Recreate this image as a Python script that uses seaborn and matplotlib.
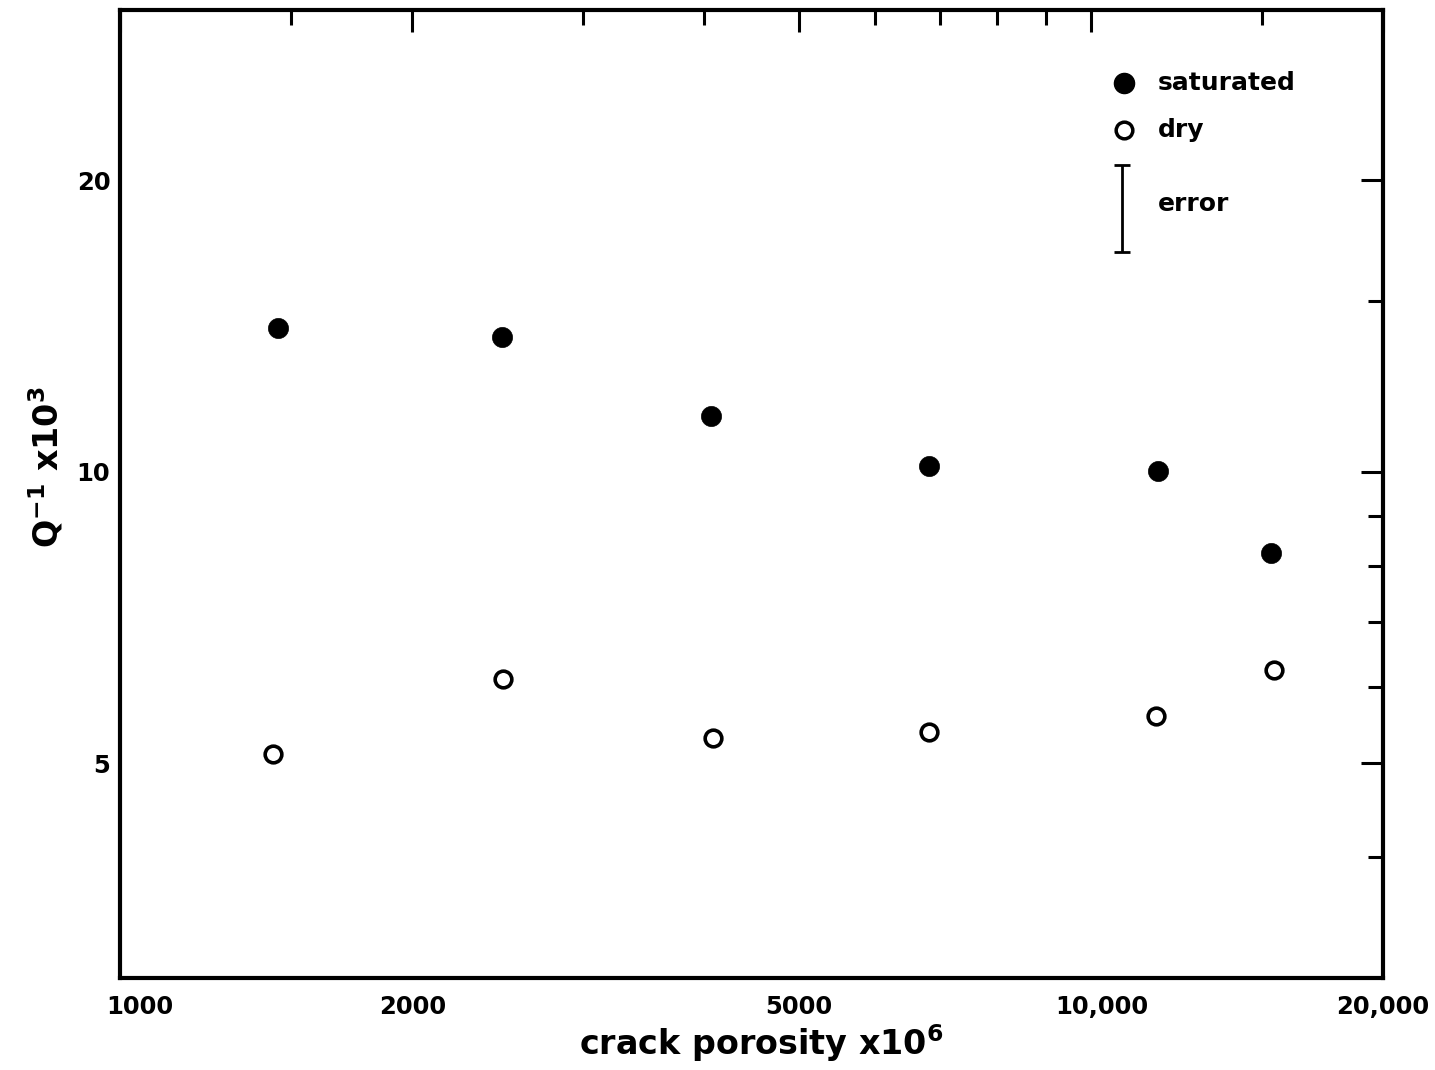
import matplotlib
matplotlib.use("Agg")
import matplotlib.pyplot as plt
import matplotlib.ticker as mticker
import matplotlib.transforms as mtransforms
import pandas as pd
import seaborn as sns

# Crack porosity (x10^6) against attenuation Q^-1 (x10^3)
sat_porosity = [1455, 2474, 4062, 6813, 11730, 15340]
sat_q = [14.08, 13.78, 11.42, 10.14, 10.02, 8.24]
dry_porosity = [1438, 2480, 4082, 6813, 11670, 15450]
dry_q = [5.11, 6.11, 5.31, 5.39, 5.59, 6.24]

x_major = [1000, 2000, 5000, 10000, 20000]
x_major_labels = ["1000", "2000", "5000", "10,000", "20,000"]
x_minor = [1500, 3000, 4000, 6000, 7000, 8000, 9000, 15000]
y_major = [5, 10, 20]
y_major_labels = ["5", "10", "20"]
y_minor = [4, 6, 7, 8, 9, 15]

# size of a typical measurement error, shown in the key
err_x = 10770
err_center = 18.7
err_low = 16.87
err_high = 20.75

sns.set_theme(style="white")
plt.rcParams["font.family"] = ["DejaVu Sans"]
plt.rcParams["font.weight"] = "bold"
plt.rcParams["mathtext.default"] = "bf"

W, H = 1435, 1070
fig = plt.figure(figsize=(W / 100, H / 100), dpi=100)
ax = fig.add_axes([120 / W, (H - 978) / H, 1263 / W, 968 / H])

sat = pd.DataFrame({"porosity": sat_porosity, "q": sat_q})
dry = pd.DataFrame({"porosity": dry_porosity, "q": dry_q})

sns.scatterplot(data=sat, x="porosity", y="q", ax=ax, marker="o", s=14.5 ** 2,
                color="black", edgecolor="black", linewidth=0.5, zorder=3)
sns.scatterplot(data=dry, x="porosity", y="q", ax=ax, marker="o", s=12 ** 2,
                color="white", edgecolor="black", linewidth=2.6, zorder=3)

ax.set_xscale("log")
ax.set_yscale("log")
ax.set_xlim(1000, 20000)
ax.set_ylim(3, 30)

ax.xaxis.set_major_locator(mticker.FixedLocator(x_major))
ax.xaxis.set_major_formatter(mticker.FixedFormatter(x_major_labels))
ax.xaxis.set_minor_locator(mticker.FixedLocator(x_minor))
ax.xaxis.set_minor_formatter(mticker.NullFormatter())
ax.yaxis.set_major_locator(mticker.FixedLocator(y_major))
ax.yaxis.set_major_formatter(mticker.FixedFormatter(y_major_labels))
ax.yaxis.set_minor_locator(mticker.FixedLocator(y_minor))
ax.yaxis.set_minor_formatter(mticker.NullFormatter())

ax.tick_params(which="both", direction="in", top=True, right=True,
               width=2.2, color="black", labelcolor="black")
ax.tick_params(which="major", length=16, labelsize=17.5)
ax.tick_params(which="minor", length=11)
ax.tick_params(axis="x", which="major", pad=12)
ax.tick_params(axis="y", which="major", pad=7)

for side in ["left", "right", "top", "bottom"]:
    ax.spines[side].set_visible(True)
    ax.spines[side].set_color("black")
    ax.spines[side].set_linewidth(3)

# nudge a couple of x tick labels to sit as set in the original typesetting
ticks = ax.xaxis.get_major_ticks()
for idx, dx in [(0, 20), (3, 11)]:
    lab = ticks[idx].label1
    lab.set_transform(lab.get_transform() +
                      mtransforms.ScaledTranslation(dx / 100, 0, fig.dpi_scale_trans))

ax.set_xlabel(r"crack porosity x10$^{6}$", fontsize=24, fontweight="bold", color="black")
ax.set_ylabel(r"Q$^{-1}$ x10$^{3}$", fontsize=24, fontweight="bold", color="black")
ax.xaxis.set_label_coords(0.508, -0.046)
ax.yaxis.set_label_coords(-0.043, 0.528)

# key
ax.plot([0.795], [0.9246], transform=ax.transAxes, marker="o", ms=14.5,
        color="black", linestyle="none")
ax.plot([0.795], [0.876], transform=ax.transAxes, marker="o", ms=12,
        mfc="white", mec="black", mew=2.5, linestyle="none")
ax.errorbar([err_x], [err_center],
            yerr=[[err_center - err_low], [err_high - err_center]],
            fmt="none", ecolor="black", elinewidth=2, capsize=6, capthick=2)
ax.text(0.822, 0.9246, "saturated", transform=ax.transAxes, va="center",
        ha="left", fontsize=18, fontweight="bold", color="black")
ax.text(0.822, 0.876, "dry", transform=ax.transAxes, va="center",
        ha="left", fontsize=18, fontweight="bold", color="black")
ax.text(0.822, 0.7996, "error", transform=ax.transAxes, va="center",
        ha="left", fontsize=18, fontweight="bold", color="black")

fig.savefig("out.png", dpi=100, facecolor="white")
